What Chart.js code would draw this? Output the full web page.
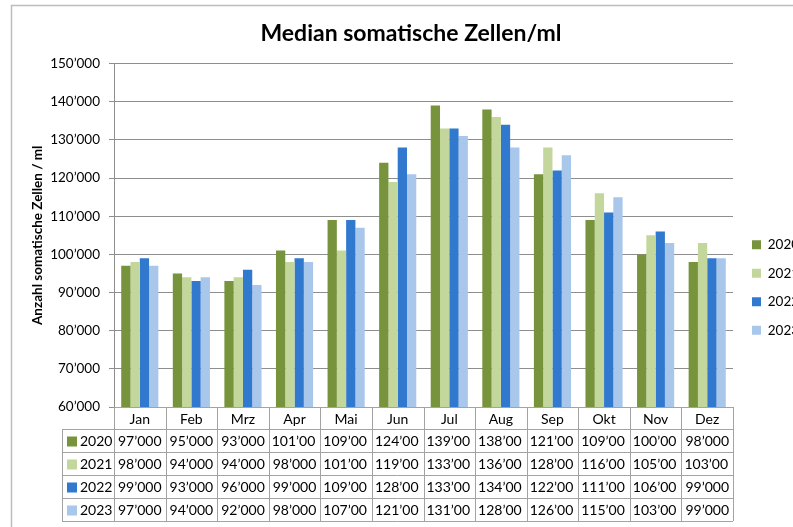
<!DOCTYPE html>
<html>
<head>
<meta charset="utf-8">
<script src="https://cdn.jsdelivr.net/npm/chart.js@4/dist/chart.umd.min.js"></script>
<style>
  html, body { margin: 0; padding: 0; background: #fff; }
  #wrap { position: relative; width: 793px; height: 527px; overflow: hidden; }
</style>
</head>
<body>
<div id="wrap"><canvas id="chart" width="793" height="527"></canvas></div>
<script>
const months = ['Jan', 'Feb', 'Mrz', 'Apr', 'Mai', 'Jun', 'Jul', 'Aug', 'Sep', 'Okt', 'Nov', 'Dez'];
const years = ['2020', '2021', '2022', '2023'];
const values2020 = [97000, 95000, 93000, 101000, 109000, 124000, 139000, 138000, 121000, 109000, 100000, 98000];
const values2021 = [98000, 94000, 94000, 98000, 101000, 119000, 133000, 136000, 128000, 116000, 105000, 103000];
const values2022 = [99000, 93000, 96000, 99000, 109000, 128000, 133000, 134000, 122000, 111000, 106000, 99000];
const values2023 = [97000, 94000, 92000, 98000, 107000, 121000, 131000, 128000, 126000, 115000, 103000, 99000];
const colors = ['#77933c', '#c3d69b', '#3079cf', '#a9c6eb'];

const FONT = 'Lato, "Noto Sans", sans-serif';
const gridColor = '#8e8e8e';
const tableColor = '#a3a3a3';

function fmt(v) {
    return String(v).replace(/\B(?=(\d{3})+(?!\d))/g, '\u2019');
}

// frame around the whole chart (right and bottom edge run off the picture)
const framePlugin = {
    id: 'frame',
    beforeDraw(chart) {
        const ctx = chart.ctx;
        ctx.save();
        ctx.strokeStyle = '#bdbdbd';
        ctx.lineWidth = 1.5;
        ctx.strokeRect(11.5, 5.5, 900, 700);
        ctx.restore();
    }
};

// nudge legend right of the plot and down
const legendShift = {
    id: 'legendShift',
    afterLayout(chart) {
        chart.legend.left += 4;
        chart.legend.right += 4;
        chart.legend.top += 18;
        chart.legend.bottom += 18;
    }
};

// Excel style data table under the x axis
const tablePlugin = {
    id: 'dataTable',
    afterDraw(chart) {
        const ctx = chart.ctx;
        const x = chart.scales.x;
        const top = chart.chartArea.bottom;
        const headH = 22;
        const rowH = 23;
        const half = (x.getPixelForValue(1) - x.getPixelForValue(0)) / 2;
        const left = x.getPixelForValue(0) - half;
        const right = x.getPixelForValue(months.length - 1) + half;
        const legLeft = 62;
        const bottom = top + headH + rowH * years.length;

        ctx.save();
        ctx.strokeStyle = tableColor;
        ctx.lineWidth = 1;
        ctx.beginPath();
        ctx.moveTo(left, top + 0.5); ctx.lineTo(right, top + 0.5);
        for (let r = 0; r <= years.length; r++) {
            const y = Math.round(top + headH + r * rowH) + 0.5;
            ctx.moveTo(legLeft, y); ctx.lineTo(right, y);
        }
        for (let i = 0; i <= months.length; i++) {
            const cx = Math.round(left + i * half * 2) + 0.5;
            ctx.moveTo(cx, top); ctx.lineTo(cx, bottom);
        }
        ctx.moveTo(legLeft + 0.5, top + headH); ctx.lineTo(legLeft + 0.5, bottom);
        ctx.stroke();

        const series = chart.data.datasets;
        ctx.font = '14px ' + FONT;
        ctx.textBaseline = 'middle';
        series.forEach((ds, r) => {
            const cy = top + headH + r * rowH + rowH / 2 + 1;
            ctx.fillStyle = ds.backgroundColor;
            ctx.fillRect(legLeft + 5, cy - 5, 10, 10);
            ctx.fillStyle = '#000';
            ctx.textAlign = 'left';
            ctx.fillText(ds.label, legLeft + 18, cy);
            ds.data.forEach((v, i) => {
                const cl = left + i * half * 2;
                const room = half * 2 - 6;
                let txt = fmt(v);
                if (ctx.measureText(txt).width > room) {
                    // too wide for the cell: cut like the spreadsheet does
                    while (txt.length > 1 && ctx.measureText(txt).width > room) txt = txt.slice(0, -1);
                    ctx.textAlign = 'left';
                    ctx.fillText(txt, cl + 3, cy);
                } else {
                    ctx.textAlign = 'center';
                    ctx.fillText(txt, cl + half, cy);
                }
            });
        });
        ctx.restore();
    }
};

new Chart(document.getElementById('chart'), {
    type: 'bar',
    data: {
        labels: months,
        datasets: [
            { label: years[0], data: values2020, backgroundColor: colors[0] },
            { label: years[1], data: values2021, backgroundColor: colors[1] },
            { label: years[2], data: values2022, backgroundColor: colors[2] },
            { label: years[3], data: values2023, backgroundColor: colors[3] }
        ]
    },
    options: {
        responsive: false,
        animation: false,
        layout: { padding: { left: 29, right: 0, top: 12, bottom: 0 } },
        datasets: {
            bar: { categoryPercentage: 0.72, barPercentage: 1.0 }
        },
        plugins: {
            title: {
                display: true,
                text: 'Median somatische Zellen/ml',
                color: '#000',
                font: { family: FONT, size: 23, weight: 'bold' },
                padding: { top: 8, bottom: 16 }
            },
            legend: {
                position: 'right',
                maxWidth: 60,
                labels: {
                    boxWidth: 9,
                    boxHeight: 9,
                    padding: 15,
                    color: '#000',
                    font: { family: FONT, size: 13.5 }
                }
            },
            tooltip: { enabled: false }
        },
        scales: {
            x: {
                grid: { display: false, drawTicks: false },
                border: { display: false },
                ticks: {
                    color: '#000',
                    padding: 4,
                    font: { family: FONT, size: 14 }
                },
                afterFit(scale) { scale.height = 120; }
            },
            y: {
                min: 60000,
                max: 150000,
                ticks: {
                    stepSize: 10000,
                    color: '#000',
                    padding: 9,
                    font: { family: FONT, size: 13.5 },
                    callback: v => fmt(v)
                },
                grid: { color: gridColor, tickLength: 5, tickColor: gridColor },
                border: { color: gridColor },
                title: {
                    display: true,
                    text: 'Anzahl somatische Zellen / ml',
                    color: '#000',
                    font: { family: FONT, size: 13.5, weight: 'bold' },
                    padding: { top: 1, bottom: 0 }
                },
                afterFit(scale) { scale.width = 85; }
            }
        }
    },
    plugins: [framePlugin, legendShift, tablePlugin]
});
</script>
</body>
</html>
